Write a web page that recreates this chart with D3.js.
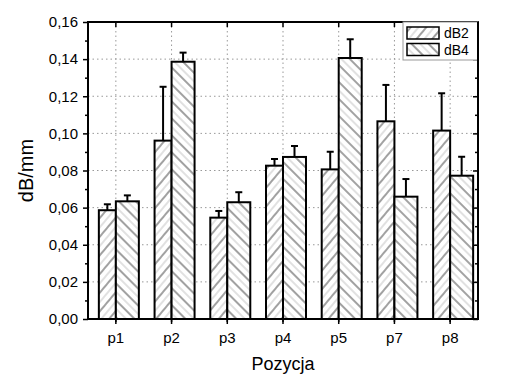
<!DOCTYPE html>
<html>
<head>
<meta charset="utf-8">
<script src="https://cdn.jsdelivr.net/npm/d3@7"></script>
<style>
  body { margin: 0; background: #fff; }
  svg { font-family: "Liberation Sans", Arial, sans-serif; }
</style>
</head>
<body>
<svg id="chart"></svg>
<script>
// data
const categories = ["p1", "p2", "p3", "p4", "p5", "p7", "p8"];
const seriesNames = ["dB2", "dB4"];
const dB2 = [0.0586, 0.0961, 0.0546, 0.0826, 0.0806, 0.1065, 0.1015];
const dB2Err = [0.0032, 0.0290, 0.0036, 0.0036, 0.0095, 0.0196, 0.0201];
const dB4 = [0.0634, 0.1386, 0.0629, 0.0873, 0.1406, 0.0659, 0.0772];
const dB4Err = [0.0032, 0.0049, 0.0054, 0.0059, 0.0101, 0.0095, 0.0102];
const yTicks = [0, 0.02, 0.04, 0.06, 0.08, 0.10, 0.12, 0.14, 0.16];
const yMinorTicks = [0.01, 0.03, 0.05, 0.07, 0.09, 0.11, 0.13, 0.15];

const width = 507, height = 384;
const margin = { top: 22, right: 29, bottom: 65, left: 88 };
const innerW = width - margin.left - margin.right;
const innerH = height - margin.top - margin.bottom;

// bars are not symmetric around the category centre in the original
const barSpan = { dB2: [-17, 0], dB4: [0, 23] };
const hatchId = { dB2: "hatch-fwd", dB4: "hatch-back" };

const rows = [];
categories.forEach((c, i) => {
  rows.push({ cat: c, s: "dB2", v: dB2[i], e: dB2Err[i] });
  rows.push({ cat: c, s: "dB4", v: dB4[i], e: dB4Err[i] });
});

const svg = d3.select("#chart").attr("width", width).attr("height", height);

// hatch patterns: dark and light diagonal lines alternating
const defs = svg.append("defs");
function hatch(id, angle) {
  const p = defs.append("pattern")
    .attr("id", id)
    .attr("patternUnits", "userSpaceOnUse")
    .attr("width", 12).attr("height", 12)
    .attr("patternTransform", `rotate(${angle})`);
  p.append("rect").attr("width", 12).attr("height", 12).attr("fill", "#fff");
  p.append("line").attr("x1", 3).attr("x2", 3).attr("y1", 0).attr("y2", 12)
    .attr("stroke", "#444").attr("stroke-width", 1);
  p.append("line").attr("x1", 9).attr("x2", 9).attr("y1", 0).attr("y2", 12)
    .attr("stroke", "#c4c4c4").attr("stroke-width", 1);
}
hatch("hatch-fwd", 40);
hatch("hatch-back", -45);

const g = svg.append("g").attr("transform", `translate(${margin.left},${margin.top})`);

const x = d3.scaleBand().domain(categories).range([0, innerW]).padding(0);
const cx = c => x(c) + x.bandwidth() / 2;
const y = d3.scaleLinear().domain([0, 0.16]).range([innerH, 0]);

const locale = d3.formatLocale({ decimal: ",", thousands: " ", grouping: [3], currency: ["", ""] });
const fmt = locale.format(".2f");

// grid
g.append("g").selectAll("line").data(yTicks.slice(1, -1)).enter().append("line")
  .attr("x1", 0).attr("x2", innerW)
  .attr("y1", d => y(d)).attr("y2", d => y(d))
  .attr("stroke", "#999").attr("stroke-width", 1).attr("stroke-dasharray", "1.5,3");
g.append("g").selectAll("line").data(categories).enter().append("line")
  .attr("x1", d => cx(d)).attr("x2", d => cx(d))
  .attr("y1", 0).attr("y2", innerH)
  .attr("stroke", "#999").attr("stroke-width", 1).attr("stroke-dasharray", "1.5,3");

// bars
g.append("g").selectAll("rect").data(rows).enter().append("rect")
  .attr("x", d => cx(d.cat) + barSpan[d.s][0])
  .attr("width", d => barSpan[d.s][1] - barSpan[d.s][0])
  .attr("y", d => y(d.v))
  .attr("height", d => y(0) - y(d.v))
  .attr("fill", d => `url(#${hatchId[d.s]})`)
  .attr("stroke", "#000").attr("stroke-width", 2);

// error bars (upper only)
const errs = g.append("g").attr("stroke", "#000").attr("stroke-width", 2);
const ex = d => cx(d.cat) + (barSpan[d.s][0] + barSpan[d.s][1]) / 2;
errs.selectAll("line.stem").data(rows).enter().append("line")
  .attr("class", "stem")
  .attr("x1", ex).attr("x2", ex)
  .attr("y1", d => y(d.v)).attr("y2", d => y(d.v + d.e));
errs.selectAll("line.cap").data(rows).enter().append("line")
  .attr("class", "cap")
  .attr("x1", d => ex(d) - 3.5).attr("x2", d => ex(d) + 3.5)
  .attr("y1", d => y(d.v + d.e)).attr("y2", d => y(d.v + d.e));

// axes
function style(sel) {
  sel.select(".domain").remove();
  sel.selectAll("line").attr("stroke", "#000").attr("stroke-width", 1.5);
  sel.selectAll("text").attr("fill", "#000");
}
g.append("g")
  .call(d3.axisLeft(y).tickValues(yTicks).tickFormat(fmt).tickSize(5).tickPadding(5))
  .call(style)
  .selectAll("text").style("font-size", "15px");
g.append("g")
  .call(d3.axisLeft(y).tickValues(yMinorTicks).tickFormat("").tickSize(3))
  .call(style);
g.append("g").attr("transform", `translate(${innerW},0)`)
  .call(d3.axisRight(y).tickValues(yTicks).tickFormat("").tickSize(-5))
  .call(style);
g.append("g").attr("transform", `translate(${innerW},0)`)
  .call(d3.axisRight(y).tickValues(yMinorTicks).tickFormat("").tickSize(-3))
  .call(style);
g.append("g").attr("transform", `translate(0,${innerH})`)
  .call(d3.axisBottom(x).tickSize(5).tickPadding(8))
  .call(style)
  .selectAll("text").style("font-size", "15px");
g.append("g").attr("transform", `translate(0,${innerH})`)
  .call(d3.axisBottom(x).tickFormat("").tickSize(3).offset(-x.bandwidth() / 2))
  .call(style);
g.append("g")
  .call(d3.axisTop(x).tickFormat("").tickSize(-5))
  .call(style);

// frame
g.append("rect").attr("width", innerW).attr("height", innerH)
  .attr("fill", "none").attr("stroke", "#000").attr("stroke-width", 2);

// axis titles
svg.append("text")
  .attr("x", margin.left + innerW / 2).attr("y", 370)
  .attr("text-anchor", "middle").style("font-size", "18px")
  .text("Pozycja");
svg.append("text")
  .attr("transform", `translate(33,${margin.top + innerH / 2}) rotate(-90)`)
  .attr("text-anchor", "middle").style("font-size", "20px")
  .text("dB/mm");

// legend
const lg = g.append("g").attr("transform", `translate(${innerW - 75},0)`);
lg.append("rect").attr("width", 75).attr("height", 38)
  .attr("fill", "#fff").attr("stroke", "#999").attr("stroke-width", 1);
seriesNames.forEach((s, i) => {
  const row = lg.append("g").attr("transform", `translate(4,${5 + i * 16.5})`);
  row.append("rect").attr("width", 32).attr("height", 12)
    .attr("fill", `url(#${hatchId[s]})`).attr("stroke", "#000").attr("stroke-width", 1.5);
  row.append("text").attr("x", 37).attr("y", 11).style("font-size", "14px").text(s);
});
// right edge of frame above legend
g.append("line").attr("x1", innerW).attr("x2", innerW).attr("y1", 0).attr("y2", innerH)
  .attr("stroke", "#000").attr("stroke-width", 2);
</script>
</body>
</html>
